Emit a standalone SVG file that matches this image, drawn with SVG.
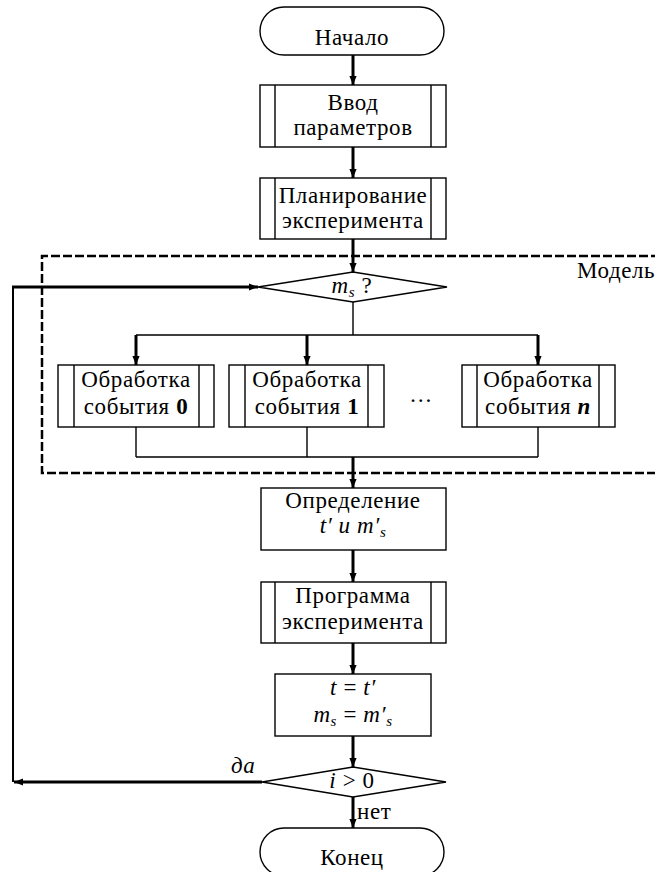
<svg xmlns="http://www.w3.org/2000/svg" width="655" height="872" viewBox="0 0 655 872" font-family="'Liberation Serif', 'DejaVu Serif', serif">
<style>
text{font-family:'Liberation Serif','DejaVu Serif',serif;font-size:23px;letter-spacing:0.6px;fill:#000;text-anchor:middle}
.i{font-style:italic}
.b{font-weight:bold}
.sh{fill:#fff;stroke:#000;stroke-width:1.4}
.ln{fill:none;stroke:#000;stroke-width:1.4}
.th{fill:none;stroke:#000;stroke-width:3}
.dash{fill:none;stroke:#000;stroke-width:2.5;stroke-dasharray:9 3}
</style>
<defs>
<marker id="ah" viewBox="0 0 10 10" refX="10" refY="5" markerWidth="9" markerHeight="9" markerUnits="userSpaceOnUse" orient="auto">
<path d="M0,1 L10,5 L0,9 z" fill="#000"/>
</marker>
</defs>
<g id="model">
<path class="dash" d="M660,256 H42 V473 H660"/>
<text x="577" y="278" style="text-anchor:start">Модель</text>
</g>
<g id="connectors">
<line class="th" x1="353" y1="55" x2="353" y2="85" marker-end="url(#ah)"/>
<line class="th" x1="353" y1="147" x2="353" y2="178" marker-end="url(#ah)"/>
<line class="th" x1="353" y1="239" x2="353" y2="272" marker-end="url(#ah)"/>
<path class="ln" d="M353,302 V335 M136,335 H538"/>
<line class="th" x1="136" y1="335" x2="136" y2="365" marker-end="url(#ah)"/>
<line class="th" x1="307" y1="335" x2="307" y2="365" marker-end="url(#ah)"/>
<line class="th" x1="538" y1="335" x2="538" y2="365" marker-end="url(#ah)"/>
<path class="ln" d="M136,427 V457 M307,427 V457 M538,427 V457 M136,457 H538"/>
<line class="th" x1="353" y1="457" x2="353" y2="488" marker-end="url(#ah)"/>
<line class="th" x1="353" y1="550" x2="353" y2="582" marker-end="url(#ah)"/>
<line class="th" x1="353" y1="643" x2="353" y2="674" marker-end="url(#ah)"/>
<line class="th" x1="353" y1="736" x2="353" y2="767" marker-end="url(#ah)"/>
<line class="th" x1="353" y1="797" x2="353" y2="828" marker-end="url(#ah)"/>
<line class="th" x1="262" y1="782" x2="14" y2="782" marker-end="url(#ah)"/>
<path fill="none" stroke="#000" stroke-width="2" d="M13,782 V287"/>
<line class="th" x1="12" y1="287" x2="258" y2="287" marker-end="url(#ah)"/>
<text class="i" x="231" y="773" style="text-anchor:start">да</text>
<text x="357" y="819" style="text-anchor:start">нет</text>
</g>
<g id="start">
<rect class="sh" x="260" y="7" width="184" height="48" rx="24"/>
<text x="352" y="45">Начало</text>
</g>
<g id="input">
<rect class="sh" x="260" y="85" width="186" height="62"/>
<path class="ln" d="M275,85 V147 M431,85 V147"/>
<text x="353" y="110">Ввод</text>
<text x="353" y="135">параметров</text>
</g>
<g id="plan">
<rect class="sh" x="260" y="178" width="186" height="61"/>
<path class="ln" d="M275,178 V239 M431,178 V239"/>
<text x="353" y="203">Планирование</text>
<text x="353" y="228">эксперимента</text>
</g>
<g id="decision-ms">
<polygon class="sh" points="258,287 353,272 447,287 353,302"/>
<text x="352" y="293"><tspan class="i">m</tspan><tspan class="i" font-size="15" dy="4">s</tspan><tspan dy="-4"> ?</tspan></text>
</g>
<g id="event0">
<rect class="sh" x="58" y="365" width="156" height="62"/>
<path class="ln" d="M74,365 V427 M199,365 V427"/>
<text x="136" y="387">Обработка</text>
<text x="136" y="414">события <tspan class="b">0</tspan></text>
</g>
<g id="event1">
<rect class="sh" x="229" y="365" width="155" height="62"/>
<path class="ln" d="M245,365 V427 M368,365 V427"/>
<text x="307" y="387">Обработка</text>
<text x="307" y="414">события <tspan class="b">1</tspan></text>
</g>
<text x="421" y="402">…</text>
<g id="eventn">
<rect class="sh" x="462" y="365" width="153" height="62"/>
<path class="ln" d="M477,365 V427 M599,365 V427"/>
<text x="538" y="387">Обработка</text>
<text x="538" y="414">события <tspan class="b i">n</tspan></text>
</g>
<g id="determine">
<rect class="sh" x="261" y="488" width="185" height="62"/>
<text x="353" y="508">Определение</text>
<text class="i" x="353" y="533">t′ и m′<tspan font-size="15" dy="4">s</tspan></text>
</g>
<g id="program">
<rect class="sh" x="261" y="582" width="185" height="61"/>
<path class="ln" d="M275,582 V643 M431,582 V643"/>
<text x="353" y="603">Программа</text>
<text x="353" y="629">эксперимента</text>
</g>
<g id="assign">
<rect class="sh" x="275" y="674" width="156" height="62"/>
<text x="353" y="695"><tspan class="i">t</tspan> = <tspan class="i">t′</tspan></text>
<text x="353" y="722"><tspan class="i">m</tspan><tspan class="i" font-size="15" dy="4">s</tspan><tspan dy="-4"> = </tspan><tspan class="i">m′</tspan><tspan class="i" font-size="15" dy="4">s</tspan></text>
</g>
<g id="decision-i">
<polygon class="sh" points="262,782 353,767 446,782 353,797"/>
<text x="352" y="788"><tspan class="i">i</tspan> &gt; 0</text>
</g>
<g id="end">
<rect class="sh" x="260" y="828" width="184" height="48" rx="24"/>
<text x="352" y="865">Конец</text>
</g>
</svg>
